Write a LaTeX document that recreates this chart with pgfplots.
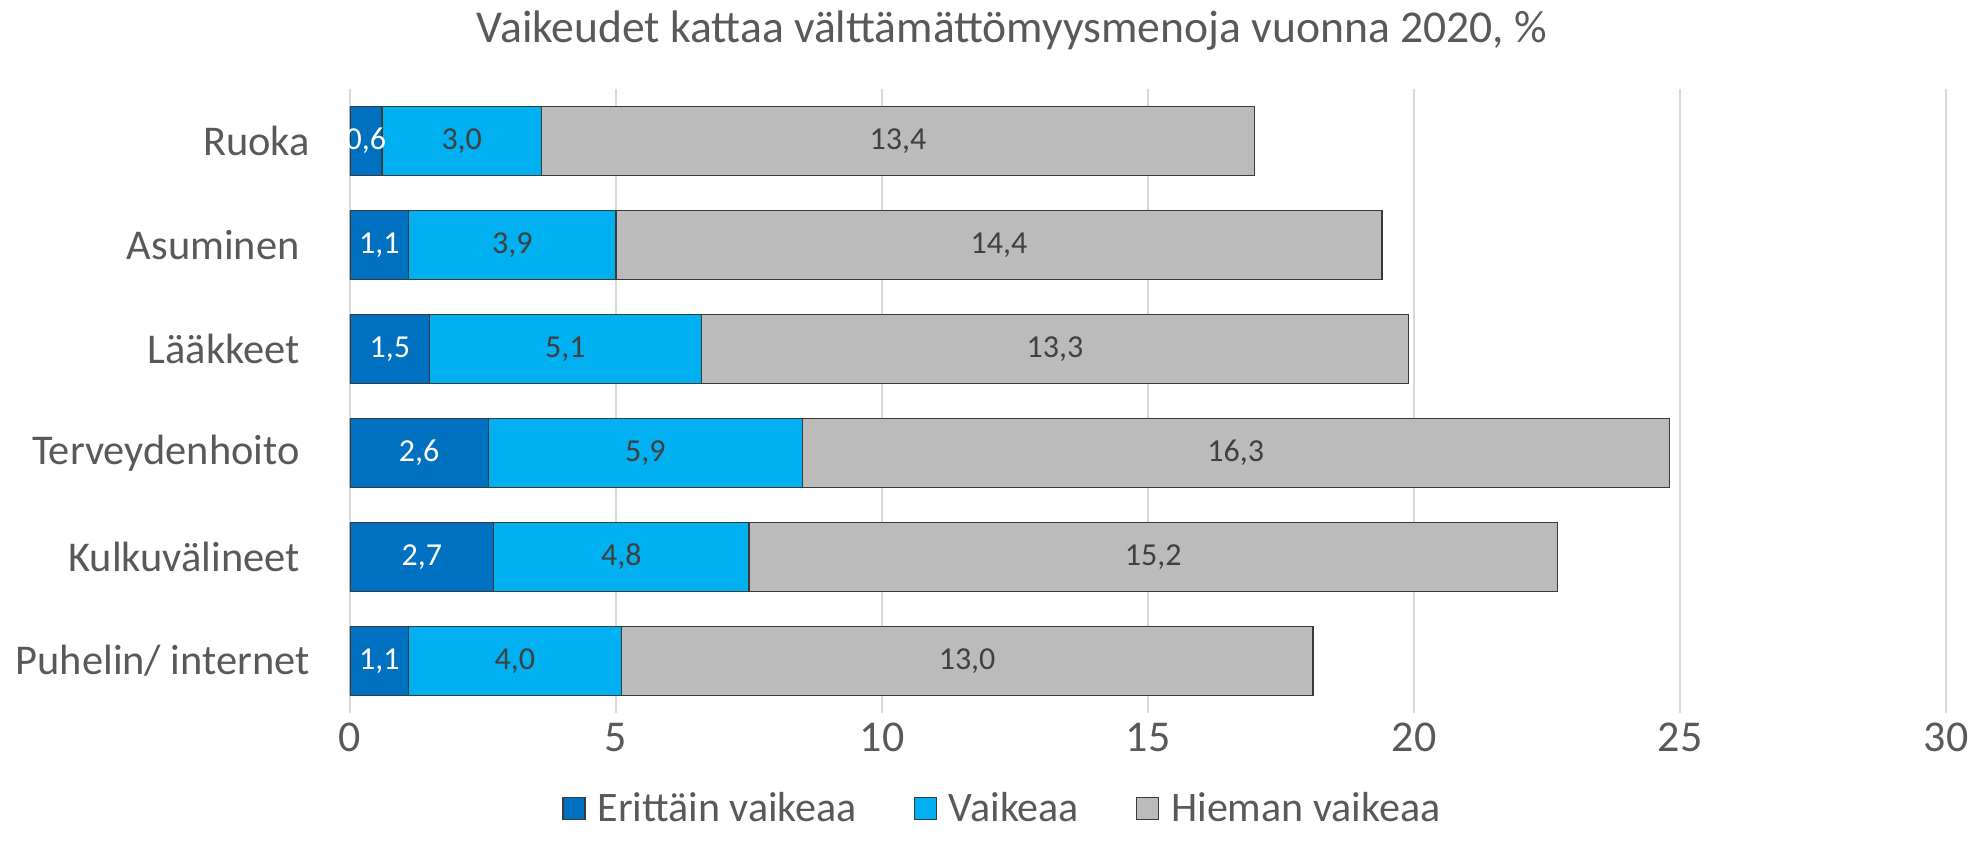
\documentclass[border=0pt]{standalone}
\usepackage{fontspec}
\setmainfont{Carlito}
\usepackage{pgfplots}
\pgfplotsset{compat=1.18}
\definecolor{dblue}{HTML}{0070C0}
\definecolor{lblue}{HTML}{00B0F0}
\definecolor{lgray}{HTML}{BBBBBB}
\definecolor{txt}{HTML}{595959}
\definecolor{lbl}{HTML}{404040}
\definecolor{gridc}{HTML}{D9D9D9}
\definecolor{edge}{HTML}{3A3A3A}
\begin{document}
\begin{tikzpicture}
\path[use as bounding box] (-175pt,-74pt) rectangle (814pt,356.5pt);
\begin{axis}[
  at={(0pt,0pt)}, anchor=south west,
  scale only axis, width=798pt, height=312pt,
  xbar stacked, bar width=34.5pt,
  xmin=0, xmax=30, ymin=-0.5, ymax=5.5,
  xtick={0,5,...,30}, ytick={0,1,2,3,4,5},
  yticklabels={Puhelin/ internet, Kulkuvälineet\hspace*{5pt}, Terveydenhoito\hspace*{5pt}, Lääkkeet\hspace*{5pt}, Asuminen\hspace*{5pt}, Ruoka},
  xmajorgrids, grid style={draw=gridc, line width=0.75pt},
  axis line style={draw=none}, major tick length=0pt,
  /pgf/number format/assume math mode=true,
  xticklabel style={font=\fontsize{22}{22}\selectfont, text=txt, inner sep=0pt, anchor=north, yshift=-5pt},
  yticklabel style={font=\fontsize{21.2}{21.2}\selectfont, text=txt, inner sep=0pt, anchor=east, xshift=-20pt},
  point meta=explicit,
  nodes near coords={\pgfmathprintnumber[fixed,fixed zerofill,precision=1,use comma]{\pgfplotspointmeta}},
  every node near coord/.append style={anchor=center, inner sep=0pt, font=\fontsize{16}{16}\selectfont, text=lbl},
  legend style={at={(0.1328,-0.153)}, anchor=west, draw=none, fill=none, inner sep=0pt,
    legend columns=3, font=\fontsize{21}{21}\selectfont, text=txt,
    nodes={inner sep=0pt},
    /tikz/every even column/.append style={column sep=28.5pt}},
  legend cell align=left,
  legend image code/.code={\draw[#1, line width=0.6pt] (0pt,-5.5pt) rectangle (11pt,5.5pt); \path (17pt,0pt);},
]
\addplot[fill=dblue, draw=edge, line width=0.6pt, every node near coord/.append style={text=white}] coordinates {
  (1.1,0) [1.1] (2.7,1) [2.7] (2.6,2) [2.6] (1.5,3) [1.5] (1.1,4) [1.1] (0.6,5) [0.6]};
\addlegendentry{Erittäin vaikeaa}
\addplot[fill=lblue, draw=edge, line width=0.6pt] coordinates {
  (4.0,0) [4.0] (4.8,1) [4.8] (5.9,2) [5.9] (5.1,3) [5.1] (3.9,4) [3.9] (3.0,5) [3.0]};
\addlegendentry{Vaikeaa}
\addplot[fill=lgray, draw=edge, line width=0.6pt] coordinates {
  (13.0,0) [13.0] (15.2,1) [15.2] (16.3,2) [16.3] (13.3,3) [13.3] (14.4,4) [14.4] (13.4,5) [13.4]};
\addlegendentry{Hieman vaikeaa}
\end{axis}
\node[anchor=base, font=\fontsize{22.8}{22.8}\selectfont, text=txt, inner sep=0pt] at (331pt,335pt) {Vaikeudet kattaa välttämättömyysmenoja vuonna 2020, \%};
\end{tikzpicture}
\end{document}
